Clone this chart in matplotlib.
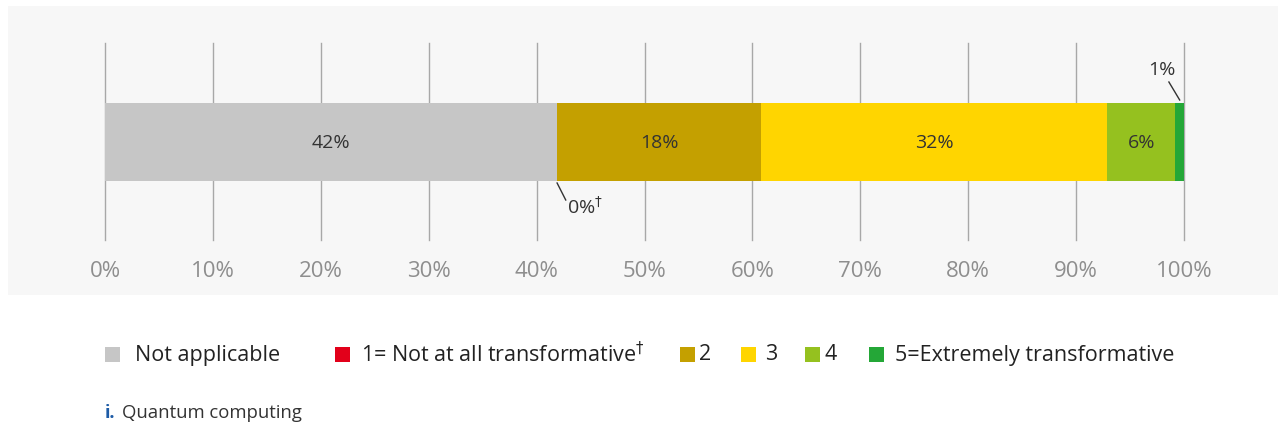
import matplotlib.pyplot as plt
from matplotlib.patches import Rectangle

# data (percent of respondents)
categories = ["Not applicable", "1= Not at all transformative$^{\u2020}$", "2", "3", "4",
              "5=Extremely transformative"]
values = [41.9, 0.0, 18.9, 32.1, 6.3, 0.8]
bar_labels = ["42%", "0%$^{\u2020}$", "18%", "32%", "6%", "1%"]
colors = ["#c6c6c6", "#e2001a", "#c4a000", "#ffd500", "#95c11f", "#24a737"]
ticks = [0, 10, 20, 30, 40, 50, 60, 70, 80, 90, 100]
tick_labels = [f"{t}%" for t in ticks]
panel_title = "Quantum computing"

plt.rcParams['font.family'] = ['Open Sans', 'DejaVu Sans']

W, H = 1282, 428
fig = plt.figure(figsize=(W / 100, H / 100), dpi=100)
fig.patch.set_facecolor("white")

# light grey panel behind the chart
fig.patches.append(Rectangle((8 / W, 1 - 295 / H), 1270 / W, 289 / H,
                             transform=fig.transFigure, facecolor="#f7f7f7",
                             edgecolor="none", zorder=-5))

ax = fig.add_axes([105 / W, 1 - 240 / H, (1184 - 105) / W, 197 / H])
ax.set_zorder(2)
ax.set_facecolor("none")
ax.set_xlim(0, 100)
ax.set_ylim(0, 197)

for t in ticks:
    ax.axvline(t, color="#a8a8a8", lw=1, zorder=1, clip_on=False)

left = 0
for v, c, lab in zip(values, colors, bar_labels):
    if v > 0:
        ax.barh(98.5, v, left=left, height=78, color=c, zorder=2)
    if v > 3:
        ax.text(left + v / 2, 97.5, lab, ha="center", va="center",
                fontsize=14, color="#333333", zorder=3)
    left += v

# callouts for the tiny segments
x0 = values[0]
ax.plot([x0, x0 + 0.8], [57, 40], color="#333333", lw=1, zorder=3)
ax.text(x0 + 0.9, 33, bar_labels[1], ha="left", va="center",
        fontsize=14, color="#333333")
x5 = sum(values[:5]) + values[5] / 2
ax.plot([x5 - 1.0, x5], [158, 140], color="#333333", lw=1, zorder=3)
ax.text(x5 - 0.4, 170, bar_labels[5], ha="right", va="center",
        fontsize=14, color="#333333")

ax.set_xticks(ticks)
ax.set_xticklabels(tick_labels, fontsize=16, color="#8e8e8e")
ax.tick_params(axis="x", length=0, pad=15)
ax.set_yticks([])
for s in ax.spines.values():
    s.set_visible(False)

# legend
leg_x = [105, 335, 680, 741, 805, 869]
txt_x = [135, 361, 699, 765, 824, 895]
ly = 1 - 355 / H
for lx, tx, c, name in zip(leg_x, txt_x, colors, categories):
    fig.patches.append(Rectangle((lx / W, ly - 7 / H), 15 / W, 15 / H,
                                 transform=fig.transFigure, facecolor=c,
                                 edgecolor="none"))
    fig.text(tx / W, ly, name, ha="left", va="center", fontsize=15.5,
             color="#222222")

fig.text(105 / W, 1 - 413 / H, "i.", ha="left", va="center", fontsize=13,
         color="#1d5ba6", fontweight="bold")
fig.text(122 / W, 1 - 413 / H, panel_title, ha="left", va="center",
         fontsize=13.3, color="#333333")

fig.savefig("out.png", dpi=100)
